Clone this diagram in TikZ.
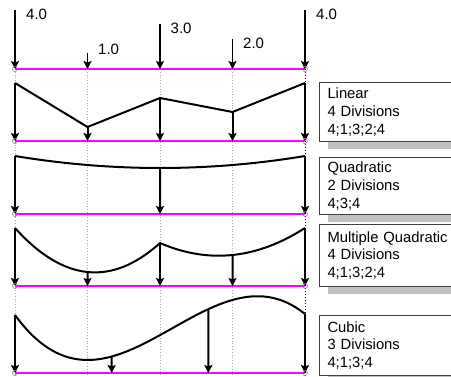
\documentclass[tikz,border=0pt]{standalone}
\usepackage{fontspec}
\setmainfont{Liberation Sans}
\usetikzlibrary{arrows.meta}
\definecolor{mag}{RGB}{255,0,255}
\definecolor{shadowgray}{RGB}{192,192,192}
\definecolor{boxline}{RGB}{64,64,64}
\begin{document}
\begin{tikzpicture}[x=1pt,y=-1pt,
  baseline/.style={mag, line width=2pt},
  load/.style={line width=1.3pt, -{Stealth[length=8pt,width=8pt,inset=1.5pt]}},
  react/.style={line width=2pt, -{Stealth[length=8pt,width=8pt,inset=1.5pt]}},
  beam/.style={line width=2pt, line join=round},
  gridline/.style={gray!70, dotted, line width=0.8pt},
  endgrid/.style={black, dotted, line width=1pt},
  endc/.style={circle, draw=gray, line width=0.6pt, inner sep=0pt, minimum size=5pt},
  lbl/.style={font=\fontsize{15}{17}\selectfont, anchor=base west, inner sep=0pt},
  infobox/.style={draw=boxline, fill=white, line width=1pt, anchor=north west,
    minimum width=150pt, text width=134pt, inner xsep=7.5pt, inner ysep=0pt,
    align=left, font=\fontsize{14.8}{17.7}\selectfont},
  shadowbox/.style={fill=shadowgray}
]
\clip (0,0) rectangle (451,377);
\fill[white] (0,0) rectangle (451,377);

% grid lines
\foreach \gx in {15,87.5,160,232.5}{\draw[gridline] (\gx,69) -- (\gx,377);}
\draw[endgrid] (305,69) -- (305,377);

% ===== Top: loads =====
\coordinate (t0) at (15,69);
\coordinate (t1) at (87.5,69);
\coordinate (t2) at (160,69);
\coordinate (t3) at (232.5,69);
\coordinate (t4) at (305,69);
\draw[baseline] (t0) -- (t4);
\coordinate (l0) at (15,10);
\coordinate (l1) at (87.5,53);
\coordinate (l2) at (160,24);
\coordinate (l3) at (232.5,39);
\coordinate (l4) at (305,10);
\draw[load] (l0) -- (t0);
\draw[load] (l1) -- (t1);
\draw[load] (l2) -- (t2);
\draw[load] (l3) -- (t3);
\draw[load] (l4) -- (t4);
\node[lbl] (v0) at (26,19.5) {4.0};
\node[lbl] (v1) at (98,54.5) {1.0};
\node[lbl] (v2) at (170.5,33.5) {3.0};
\node[lbl] (v3) at (243,48.5) {2.0};
\node[lbl] (v4) at (316,19.5) {4.0};
\node[endc] (c0a) at (t0) {};
\node[endc] (c0b) at (t4) {};

% ===== Linear =====
\coordinate (a0) at (15,141);
\coordinate (a1) at (87.5,141);
\coordinate (a2) at (160,141);
\coordinate (a3) at (232.5,141);
\coordinate (a4) at (305,141);
\coordinate (p0) at (15,83);
\coordinate (p1) at (87.5,127);
\coordinate (p2) at (160,98);
\coordinate (p3) at (232.5,112);
\coordinate (p4) at (305,83);
\draw[baseline] (a0) -- (a4);
\draw[beam] (p0) -- (p1) -- (p2) -- (p3) -- (p4);
\draw[react] (p0) -- (a0);
\draw[react] (p1) -- (a1);
\draw[react] (p2) -- (a2);
\draw[react] (p3) -- (a3);
\draw[react] (p4) -- (a4);
\node[endc] (c1a) at (a0) {};
\node[endc] (c1b) at (a4) {};
\fill[shadowgray] (328,90) rectangle (460,149);
\node[infobox, minimum height=59pt] (box1) at (319,82) {Linear\\4 Divisions\\4;1;3;2;4};

% ===== Quadratic =====
\coordinate (b0) at (15,214);
\coordinate (b2) at (160,214);
\coordinate (b4) at (305,214);
\coordinate (q0) at (15,156);
\coordinate (q4) at (305,156);
\draw[baseline] (b0) -- (b4);
\draw[beam] (q0) .. controls (111.67,172) and (208.33,172) .. (q4) coordinate[pos=0.5] (q2);
\draw[react] (q0) -- (b0);
\draw[react] (q2) -- (b2);
\draw[react] (q4) -- (b4);
\node[endc] (c2a) at (b0) {};
\node[endc] (c2b) at (b4) {};
\fill[shadowgray] (328,165) rectangle (460,222);
\node[infobox, minimum height=57pt] (box2) at (319,157) {Quadratic\\2 Divisions\\4;3;4};

% ===== Multiple Quadratic =====
\coordinate (m0) at (15,286);
\coordinate (m1) at (87.5,286);
\coordinate (m2) at (160,286);
\coordinate (m3) at (232.5,286);
\coordinate (m4) at (305,286);
\coordinate (r0) at (15,228);
\coordinate (r2) at (160,243);
\coordinate (r4) at (305,228);
\draw[baseline] (m0) -- (m4);
\draw[beam] (r0) .. controls (63.3,281.7) and (111.7,286.7) .. (r2) coordinate[pos=0.5] (r1)
  .. controls (208.3,264) and (256.7,259) .. (r4) coordinate[pos=0.5] (r3);
\draw[react] (r0) -- (m0);
\draw[react] (r1) -- (m1);
\draw[react] (r2) -- (m2);
\draw[react] (r3) -- (m3);
\draw[react] (r4) -- (m4);
\node[endc] (c3a) at (m0) {};
\node[endc] (c3b) at (m4) {};
\fill[shadowgray] (328,232) rectangle (460,294);
\node[infobox, minimum height=62pt] (box3) at (319,224) {Multiple Quadratic\\4 Divisions\\4;1;3;2;4};

% ===== Cubic =====
\coordinate (n0) at (15,373);
\coordinate (n1) at (111.67,373);
\coordinate (n2) at (208.33,373);
\coordinate (n3) at (305,373);
\coordinate (s0) at (15,315);
\coordinate (s3) at (305,314);
\draw[baseline] (n0) -- (n3);
\draw[beam] (s0) .. controls (111.67,448) and (208.33,236) .. (s3)
  coordinate[pos=0.3333] (s1) coordinate[pos=0.6667] (s2);
\draw[react] (s0) -- (n0);
\draw[react] (s1) -- (n1);
\draw[react] (s2) -- (n2);
\draw[react] (s3) -- (n3);
\node[endc] (c4a) at (n0) {};
\node[endc] (c4b) at (n3) {};
\fill[shadowgray] (328,323) rectangle (460,383);
\node[infobox, minimum height=60pt] (box4) at (319,315) {Cubic\\3 Divisions\\4;1;3;4};
\end{tikzpicture}
\end{document}
